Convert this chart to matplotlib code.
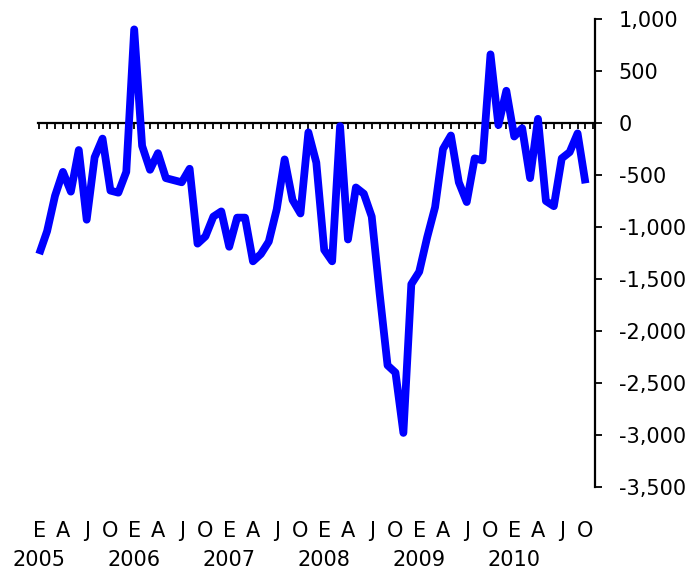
import numpy as np
import matplotlib
matplotlib.use("Agg")
import matplotlib.pyplot as plt
from matplotlib.ticker import FuncFormatter, FixedLocator
import matplotlib.transforms as mtransforms

# Monthly values, Jan 2005 .. Oct 2010
values = [
    -1260, -1040, -700, -470, -660, -260, -930, -330, -150, -650, -670, -470,   # 2005
    900, -220, -450, -290, -530, -550, -570, -440, -1160, -1090, -900, -850,     # 2006
    -1190, -910, -910, -1330, -1260, -1140, -830, -350, -740, -870, -90, -380,   # 2007
    -1220, -1330, -30, -1120, -620, -680, -900, -1640, -2330, -2400, -2980, -1550,  # 2008
    -1430, -1100, -810, -250, -120, -570, -760, -340, -360, 660, -20, 310,       # 2009
    -130, -50, -530, 40, -750, -800, -340, -280, -100, -580,                     # 2010
]
month_labels = ["E", "A", "J", "O"] * 6
year_labels = ["2005", "2006", "2007", "2008", "2009", "2010"]
y_ticks = [1000, 500, 0, -500, -1000, -1500, -2000, -2500, -3000, -3500]

plt.rcParams["font.family"] = ["DejaVu Sans"]

fig = plt.figure(figsize=(6.96, 5.69), dpi=100)
ax = fig.add_axes([38 / 696, 1 - 487 / 569, (595 - 38) / 696, (487 - 19) / 569])

x = np.arange(len(values))
ax.plot(x, values, color="#0000ff", lw=5.6, solid_joinstyle="round",
        solid_capstyle="butt", zorder=3, clip_on=False)

ax.set_ylim(-3500, 1000)
ax.set_xlim(-0.15, 70.2)

# Spines
ax.spines["top"].set_visible(False)
ax.spines["left"].set_visible(False)
ax.spines["bottom"].set_position(("data", 0))
ax.spines["bottom"].set_linewidth(1.6)
ax.spines["bottom"].set_zorder(2)
ax.spines["right"].set_linewidth(1.6)

# x ticks: monthly marks on zero line, no labels
ax.xaxis.set_major_locator(FixedLocator(np.arange(0, 71)))
ax.tick_params(axis="x", direction="out", length=4.2, width=1.3,
               labelbottom=False, color="black")

# y axis on right
ax.yaxis.tick_right()
ax.yaxis.set_major_locator(FixedLocator(y_ticks))
ax.yaxis.set_major_formatter(FuncFormatter(lambda v, p: f"{int(v):,}"))
ax.tick_params(axis="y", direction="out", length=5, width=1.3, pad=12,
               labelsize=15, colors="black")

# Month and year labels below the chart
trans = mtransforms.blended_transform_factory(ax.transData, fig.transFigure)
for k, lab in enumerate(month_labels):
    ax.text(3 * k, 1 - 537 / 569, lab, transform=trans, ha="center",
            va="baseline", fontsize=15, clip_on=False)
for k, lab in enumerate(year_labels):
    ax.text(12 * k, 1 - 566 / 569, lab, transform=trans, ha="center",
            va="baseline", fontsize=15, clip_on=False)

fig.savefig("out.png", dpi=100)
